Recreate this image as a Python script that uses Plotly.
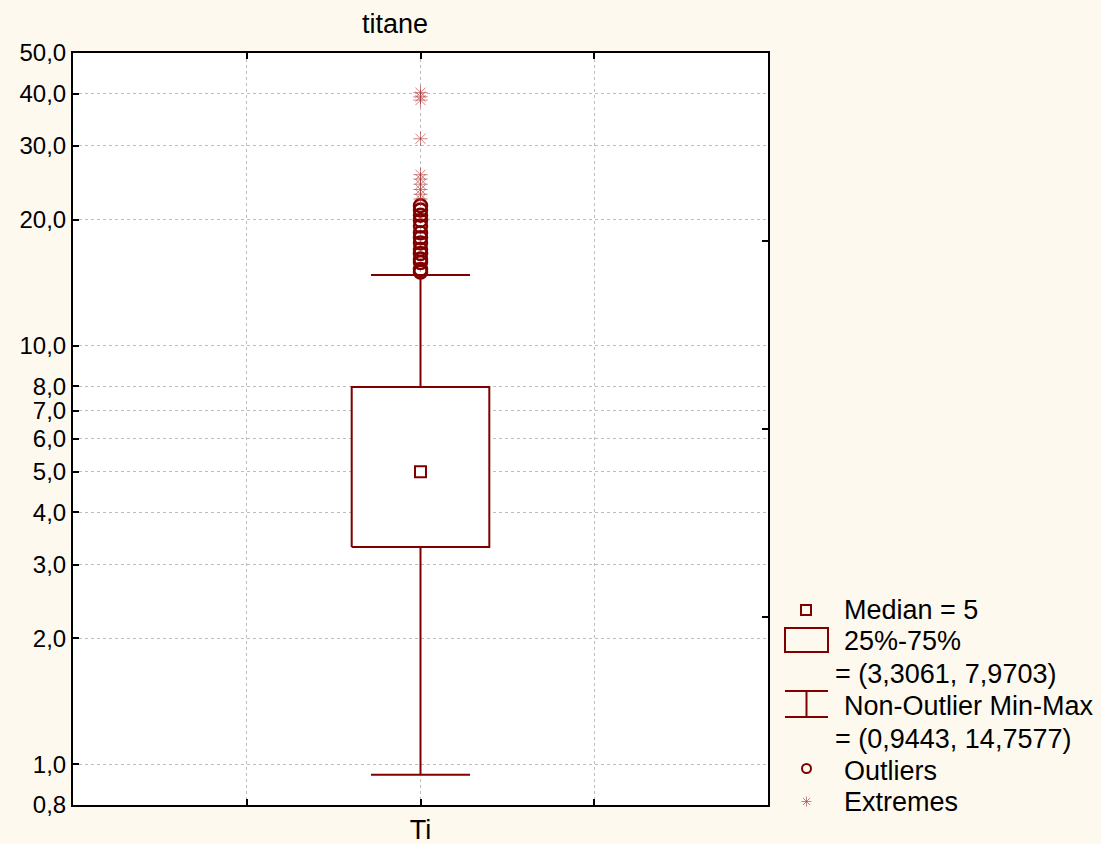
import numpy as np
import plotly.graph_objects as go

# summary stats for Ti (Statistica style box plot)
variable = 'Ti'
title = 'titane'
median = 5.0
q1, q3 = 3.3061, 7.9703
whisker_lo, whisker_hi = 0.9443, 14.7577

outliers = [15.0, 15.2, 15.8, 16.1, 16.6, 17.0, 17.6, 18.1, 18.6,
            19.3, 19.9, 20.5, 21.1, 21.6]
extremes = [22.4, 23.0, 23.6, 24.3, 25.0, 25.6, 31.2, 38.6, 39.3, 40.2]

ytick_vals = [0.8, 1, 2, 3, 4, 5, 6, 7, 8, 10, 20, 30, 40, 50]
ytick_text = ['0,8', '1,0', '2,0', '3,0', '4,0', '5,0', '6,0', '7,0', '8,0',
              '10,0', '20,0', '30,0', '40,0', '50,0']

RED = '#800000'
EXT = 'rgba(170,50,50,0.6)'
FONT = 'Arial, Liberation Sans, sans-serif'
W, H = 1101, 844
L, R, T, B = 73, 768, 53, 805
box_hw, cap_hw = 0.396, 0.285


def px(x):
    return (x - L) / (R - L)


def py(y):
    return (B - y) / (B - T)


def dec(v):
    return str(v).replace('.', ',')


fig = go.Figure()

# whiskers + caps
fig.add_trace(go.Scatter(
    x=[0, 0, None, 0, 0, None, -cap_hw, cap_hw, None, -cap_hw, cap_hw],
    y=[q3, whisker_hi, None, q1, whisker_lo, None, whisker_hi, whisker_hi, None, whisker_lo, whisker_lo],
    mode='lines', line=dict(color=RED, width=2), hoverinfo='skip'))
# box
fig.add_trace(go.Scatter(
    x=[-box_hw, box_hw, box_hw, -box_hw, -box_hw],
    y=[q1, q1, q3, q3, q1],
    mode='lines', fill='toself', fillcolor='white',
    line=dict(color=RED, width=2)))
# median
fig.add_trace(go.Scatter(x=[0], y=[median], mode='markers',
                         marker=dict(symbol='square-open', size=11, color=RED, line=dict(width=2))))
fig.add_trace(go.Scatter(x=[0] * len(outliers), y=outliers, mode='markers',
                         marker=dict(symbol='circle-open', size=13, color=RED, line=dict(width=2.5))))
fig.add_trace(go.Scatter(x=[0] * len(extremes), y=extremes, mode='markers',
                         marker=dict(symbol='asterisk-open', size=12, color=EXT, line=dict(width=1))))
# dummy trace to carry the right-hand axis
fig.add_trace(go.Scatter(x=[None], y=[None], yaxis='y2', showlegend=False))

tick_font = dict(family=FONT, size=24, color='black')
fig.update_layout(
    width=W, height=H,
    paper_bgcolor='#FDF9EF', plot_bgcolor='white',
    margin=dict(l=L, r=W - R, t=T, b=H - B, autoexpand=False),
    showlegend=False,
    font=dict(family=FONT, size=27, color='black'),
    xaxis=dict(range=[-2, 2], tickvals=[-1, 0, 1], ticktext=['', variable, ''], automargin=False,
               tickfont=dict(family=FONT, size=27, color='black'),
               showgrid=True, gridcolor='#BDBDBD', griddash='dot', gridwidth=1,
               showline=True, linecolor='black', linewidth=2, mirror='ticks',
               ticks='inside', ticklen=6, tickwidth=2, tickcolor='black', zeroline=False),
    yaxis=dict(type='log', range=[np.log10(0.8), np.log10(50)], automargin=False,
               tickvals=ytick_vals, ticktext=ytick_text, tickfont=tick_font,
               showgrid=True, gridcolor='#BDBDBD', griddash='dot', gridwidth=1,
               showline=True, linecolor='black', linewidth=2,
               ticks='inside', ticklen=6, tickwidth=2, tickcolor='black', zeroline=False),
    yaxis2=dict(overlaying='y', side='right', range=[0, 4], tickvals=[1, 2, 3], automargin=False,
                showticklabels=False, showgrid=False, zeroline=False,
                showline=True, linecolor='black', linewidth=2,
                ticks='inside', ticklen=6, tickwidth=2, tickcolor='black'),
)

fig.add_annotation(text=title, xref='paper', yref='paper', x=px(395), y=py(24),
                   showarrow=False, xanchor='center', yanchor='middle')

# legend drawn by hand
line = dict(color=RED, width=2)
fig.add_shape(type='rect', xref='paper', yref='paper', x0=px(801), x1=px(811), y0=py(615), y1=py(605), line=line)
fig.add_shape(type='rect', xref='paper', yref='paper', x0=px(785), x1=px(828), y0=py(652), y1=py(628), line=line)
fig.add_shape(type='line', xref='paper', yref='paper', x0=px(785), x1=px(828), y0=py(691), y1=py(691), line=line)
fig.add_shape(type='line', xref='paper', yref='paper', x0=px(785), x1=px(828), y0=py(717), y1=py(717), line=line)
fig.add_shape(type='line', xref='paper', yref='paper', x0=px(806.5), x1=px(806.5), y0=py(691), y1=py(717), line=line)
fig.add_shape(type='circle', xref='paper', yref='paper', x0=px(802), x1=px(811), y0=py(773), y1=py(764), line=line)
cx, cy = 806.5, 801.5
for dx, dy in [(5, 0), (0, 5), (3.5, 3.5), (3.5, -3.5)]:
    fig.add_shape(type='line', xref='paper', yref='paper',
                  x0=px(cx - dx), x1=px(cx + dx), y0=py(cy - dy), y1=py(cy + dy),
                  line=dict(color=EXT, width=1))

legend_rows = [
    (842, 610, 'Median = %g' % median),
    (842, 641, '25%-75%'),
    (833, 674, '= (%s, %s)' % (dec(q1), dec(q3))),
    (842, 706, 'Non-Outlier Min-Max'),
    (833, 739, '= (%s, %s)' % (dec(whisker_lo), dec(whisker_hi))),
    (842, 771, 'Outliers'),
    (842, 802, 'Extremes'),
]
for x, y, txt in legend_rows:
    fig.add_annotation(text=txt, xref='paper', yref='paper', x=px(x), y=py(y),
                       showarrow=False, xanchor='left', yanchor='middle')

fig.write_html('out.html', config={'displayModeBar': False},
               post_script="document.body.style.margin='0';")
